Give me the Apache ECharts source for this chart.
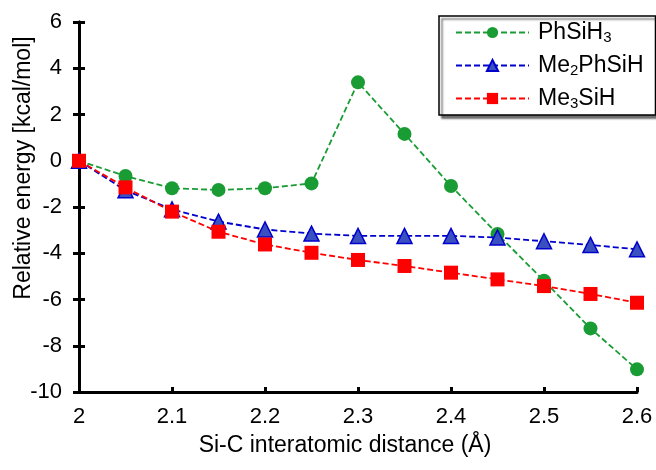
<!DOCTYPE html>
<html>
<head>
<meta charset="utf-8">
<script src="https://cdn.jsdelivr.net/npm/echarts@6/dist/echarts.min.js"></script>
<style>
html,body{margin:0;padding:0;background:#fff;}
#chart{width:656px;height:470px;}
</style>
</head>
<body>
<div id="chart"></div>
<script>
const distances = [2.0, 2.05, 2.1, 2.15, 2.2, 2.25, 2.3, 2.35, 2.4, 2.45, 2.5, 2.55, 2.6];
const phSiH3 = [0, -0.66, -1.19, -1.26, -1.19, -0.98, 3.39, 1.16, -1.09, -3.17, -5.19, -7.25, -9.02];
const me2PhSiH = [0, -1.28, -2.1, -2.63, -2.97, -3.15, -3.25, -3.25, -3.25, -3.32, -3.48, -3.64, -3.83];
const me3SiH = [0, -1.15, -2.2, -3.07, -3.62, -3.98, -4.29, -4.55, -4.84, -5.13, -5.42, -5.76, -6.14];
const seriesNames = ['PhSiH3', 'Me2PhSiH', 'Me3SiH'];
const legendRich = {
  'PhSiH3': '{t|PhSiH}{s|3}',
  'Me2PhSiH': '{t|Me}{s|2}{t|PhSiH}',
  'Me3SiH': '{t|Me}{s|3}{t|SiH}'
};

const FONT = '"Liberation Sans", Arial, sans-serif';
function pairs(ys){ return distances.map((x,i)=>[x, ys[i]]); }

const chart = echarts.init(document.getElementById('chart'), null, {renderer:'canvas'});
const axisLine = {show:true, onZero:false, lineStyle:{color:'#000', width:3}};
chart.setOption({
  animation:false,
  backgroundColor:'#fff',
  textStyle:{fontFamily:FONT},
  grid:{left:79, right:19, top:22, bottom:78, containLabel:false, outerBoundsMode:'none'},
  xAxis:{
    type:'value', min:2, max:2.6, interval:0.1,
    name:'Si-C interatomic distance (Å)', nameLocation:'middle', nameGap:42, nameMoveOverlap:false,
    nameTextStyle:{fontSize:23, color:'#000', fontFamily:FONT, padding:[0,26,0,0]},
    axisLine:axisLine,
    axisTick:{show:true, inside:true, length:5, lineStyle:{color:'#000', width:3}},
    axisLabel:{fontSize:22, color:'#000', margin:14, fontFamily:FONT,
      formatter:v=>String(Math.round(v*10)/10)},
    splitLine:{show:false}
  },
  yAxis:[{
    type:'value', min:-10, max:6, interval:2,
    name:'Relative energy [kcal/mol]', nameLocation:'middle', nameGap:44, nameMoveOverlap:false,
    nameTextStyle:{fontSize:23, color:'#000', fontFamily:FONT, padding:[0,0,0,78]},
    axisLine:axisLine,
    axisTick:{show:true, inside:false, length:6, lineStyle:{color:'#000', width:3}},
    axisLabel:{fontSize:22, color:'#000', margin:17, fontFamily:FONT},
    splitLine:{show:false}
  },{
    type:'value', min:-10, max:6, interval:2, position:'left',
    axisLine:axisLine,
    axisTick:{show:true, inside:true, length:6, lineStyle:{color:'#000', width:3}},
    axisLabel:{show:false},
    splitLine:{show:false}
  }],
  legend:{
    orient:'vertical', left:439, top:16,
    padding:[4,12,4,16], itemGap:8,
    backgroundColor:'#fff', borderColor:'#000', borderWidth:1.5,
    shadowColor:'rgba(0,0,0,0.55)', shadowBlur:2, shadowOffsetX:3, shadowOffsetY:3,
    itemWidth:73, itemHeight:14,
    data:seriesNames,
    formatter:n=>legendRich[n],
    textStyle:{
      fontFamily:FONT, fontSize:23, color:'#000', padding:[0,0,0,4],
      rich:{
        t:{fontSize:23, fontFamily:FONT, color:'#000', lineHeight:26},
        s:{fontSize:15, fontFamily:FONT, color:'#000', lineHeight:26, padding:[10,0,0,0]}
      }
    }
  },
  series:[{
    name:'PhSiH3', type:'line', data:pairs(phSiH3), z:2,
    symbol:'circle', symbolSize:14,
    itemStyle:{color:'#1a9c35'},
    lineStyle:{color:'#1a9c35', width:1.8, type:[6,3]}
  },{
    name:'Me2PhSiH', type:'line', data:pairs(me2PhSiH), z:3,
    symbol:'triangle', symbolSize:15,
    itemStyle:{color:'#3a4fc0', borderColor:'#0000cc', borderWidth:1.5},
    lineStyle:{color:'#0000cc', width:1.8, type:[6,3]}
  },{
    name:'Me3SiH', type:'line', data:pairs(me3SiH), z:4,
    symbol:'rect', symbolSize:14,
    itemStyle:{color:'#ff0000'},
    lineStyle:{color:'#ff0000', width:1.8, type:[6,3]}
  }]
});
</script>
</body>
</html>
